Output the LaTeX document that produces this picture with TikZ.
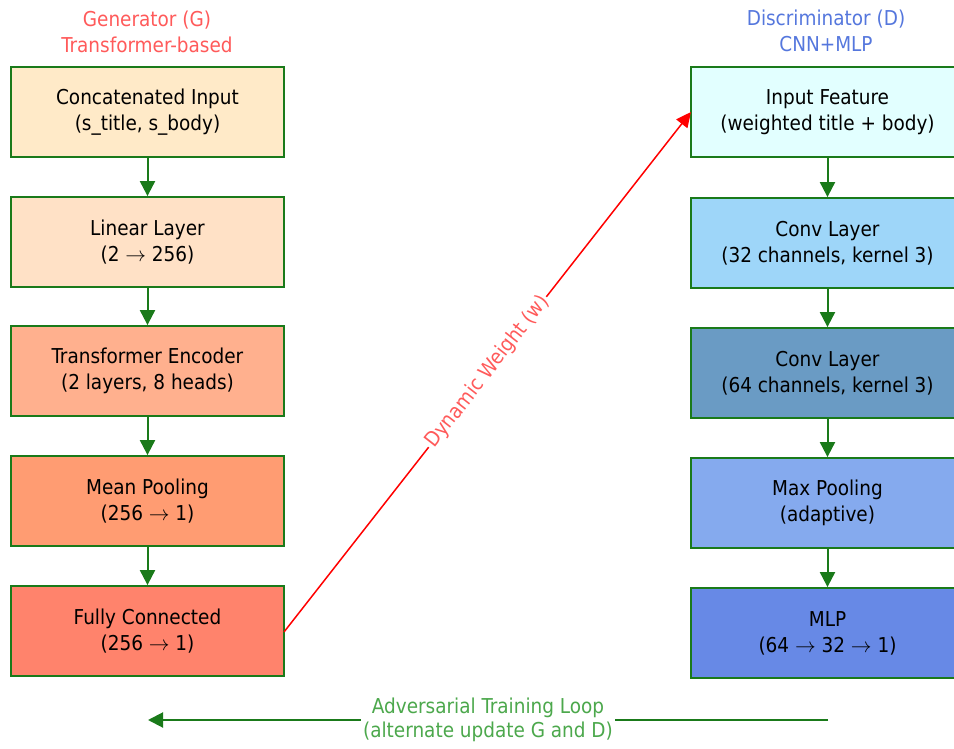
\documentclass[tikz,border=0pt]{standalone}
\usepackage{fontspec}
\setmainfont{DejaVu Sans Condensed}
\usetikzlibrary{arrows.meta}
\definecolor{gA}{HTML}{FFEAC8}
\definecolor{gB}{HTML}{FFE1C6}
\definecolor{gC}{HTML}{FFB08E}
\definecolor{gD}{HTML}{FF9C72}
\definecolor{gE}{HTML}{FF836C}
\definecolor{dA}{HTML}{E2FFFF}
\definecolor{dB}{HTML}{9ED6F9}
\definecolor{dC}{HTML}{6A9BC4}
\definecolor{dD}{HTML}{85AAEE}
\definecolor{dE}{HTML}{6789E6}
\definecolor{bord}{HTML}{1A7A1A}
\definecolor{redt}{HTML}{FF5A5A}
\definecolor{bluet}{HTML}{5577DD}
\definecolor{greent}{HTML}{4CA84C}
\newcommand{\ra}{\ $\rightarrow$\ }
\tikzset{
  layerbox/.style={draw=bord, line width=1.8pt, minimum width=273pt, minimum height=90pt,
    align=center, font=\fontsize{20.5}{26}\selectfont, inner sep=0pt},
  flow/.style={-{Triangle[length=15pt,width=15pt]}, draw=bord, line width=2pt},
  titletext/.style={align=center, font=\fontsize{20.5}{26}\selectfont}
}
\begin{document}
\begin{tikzpicture}[x=1pt,y=-1pt]
\useasboundingbox (0,0) rectangle (954,749);
% generator column
\node[titletext, text=redt] (gt) at (147,32) {Generator (G)\\Transformer-based};
\node[layerbox, fill=gA] (g1) at (147.5,112) {Concatenated Input\\(s\_title, s\_body)};
\node[layerbox, fill=gB] (g2) at (147.5,242) {Linear Layer\\(2\ra 256)};
\node[layerbox, fill=gC] (g3) at (147.5,371) {Transformer Encoder\\(2 layers, 8 heads)};
\node[layerbox, fill=gD] (g4) at (147.5,501) {Mean Pooling\\(256\ra 1)};
\node[layerbox, fill=gE] (g5) at (147.5,631) {Fully Connected\\(256\ra 1)};
% discriminator column
\node[titletext, text=bluet] (dt) at (826,31) {Discriminator (D)\\CNN+MLP};
\node[layerbox, fill=dA] (d1) at (827.5,112) {Input Feature\\(weighted title + body)};
\node[layerbox, fill=dB] (d2) at (827.5,243) {Conv Layer\\(32 channels, kernel 3)};
\node[layerbox, fill=dC] (d3) at (827.5,373) {Conv Layer\\(64 channels, kernel 3)};
\node[layerbox, fill=dD] (d4) at (827.5,503) {Max Pooling\\(adaptive)};
\node[layerbox, fill=dE] (d5) at (827.5,633) {MLP\\(64\ra 32\ra 1)};
% flows
\draw[flow] (g1) -- (g2);
\draw[flow] (g2) -- (g3);
\draw[flow] (g3) -- (g4);
\draw[flow] (g4) -- (g5);
\draw[flow] (d1) -- (d2);
\draw[flow] (d2) -- (d3);
\draw[flow] (d3) -- (d4);
\draw[flow] (d4) -- (d5);
% dynamic weight
\coordinate (ws) at (284,632);
\coordinate (we) at (691,112);
\draw[red, line width=1.5pt, -{Triangle[length=15pt,width=14pt]}] (ws) -- node[sloped, fill=white, text=redt, inner sep=2pt, font=\fontsize{20.5}{22}\selectfont] (wl) {Dynamic Weight (w)} (we);
% adversarial loop
\coordinate (ls) at (828,720);
\coordinate (le) at (148,720);
\draw[flow] (ls) -- node[fill=white, text=greent, align=center, inner sep=2pt, font=\fontsize{20.5}{24}\selectfont] (ll) {Adversarial Training Loop\\(alternate update G and D)} (le);
\end{tikzpicture}
\end{document}
